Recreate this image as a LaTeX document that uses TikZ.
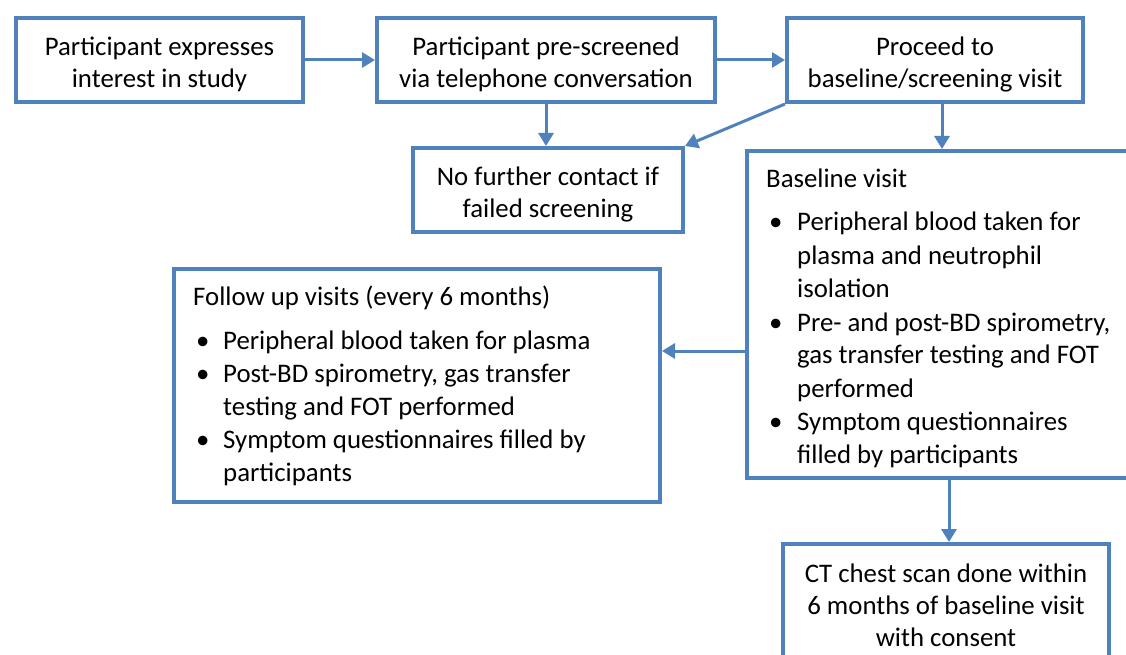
\documentclass[tikz,border=0pt]{standalone}
\usepackage{fontspec}
\setmainfont{Carlito}
\usetikzlibrary{arrows.meta}
\definecolor{flowblue}{RGB}{79,129,189}
% bullet and hanging indent for the visit lists
\newcommand{\itemmark}[1]{\makebox[#1][l]{\hspace{3pt}\textbullet}}
\newcommand{\itemgap}[1]{\makebox[#1]{}}
% extra room above the first line of a centred box text
\newcommand{\topstrut}{\rule{0pt}{27pt}}
\begin{document}
\begin{tikzpicture}[x=1pt,y=-1pt,
  box/.style={draw=flowblue, line width=4pt, fill=white, inner sep=0pt,
    align=center, anchor=north west, font=\fontsize{26.8}{32}\selectfont},
  listtext/.style={anchor=base west, inner sep=0pt,
    font=\fontsize{26.8}{33}\selectfont},
  link/.style={draw=flowblue, line width=3pt,
    -{Triangle[length=13pt,width=15pt]}}]
\useasboundingbox (0,0) rectangle (1126,655);
\clip (0,0) rectangle (1126,655);

% top row
\node[box, minimum width=287pt, minimum height=84pt] (interest) at (14,16)
  {\topstrut Participant expresses\\interest in study};
\node[box, minimum width=338pt, minimum height=84pt] (prescreen) at (375,16)
  {\topstrut Participant pre-screened\\via telephone conversation};
\node[box, minimum width=296pt, minimum height=84pt] (proceed) at (785,16)
  {\topstrut Proceed to\\baseline/screening visit};

% screening failure
\node[box, minimum width=270pt, minimum height=84pt] (nocontact) at (411,146)
  {\topstrut No further contact if\\failed screening};

% baseline visit (runs off the right edge)
\node[box, minimum width=400pt, minimum height=327pt] (baseline) at (745,149) {};
\node[listtext] (basetext) at (766,188) {\begin{tabular}[t]{@{}l@{}}
  Baseline visit\\[10pt]
  \itemmark{31pt}Peripheral blood taken for\\
  \itemgap{31pt}plasma and neutrophil\\
  \itemgap{31pt}isolation\\[1pt]
  \itemmark{31pt}Pre- and post-BD spirometry,\\
  \itemgap{31pt}gas transfer testing and FOT\\
  \itemgap{31pt}performed\\
  \itemmark{31pt}Symptom questionnaires\\
  \itemgap{31pt}filled by participants
  \end{tabular}};

% follow up visits
\node[box, minimum width=486pt, minimum height=233pt] (followup) at (172,267) {};
\node[listtext] (followtext) at (193,305) {\begin{tabular}[t]{@{}l@{}}
  Follow up visits (every 6 months)\\[11pt]
  \itemmark{30pt}Peripheral blood taken for plasma\\
  \itemmark{30pt}Post-BD spirometry, gas transfer\\
  \itemgap{30pt}testing and FOT performed\\
  \itemmark{30pt}Symptom questionnaires filled by\\
  \itemgap{30pt}participants
  \end{tabular}};

% CT scan (runs off the bottom edge)
\node[box, minimum width=326pt, minimum height=122pt] (ctscan) at (781,542)
  {CT chest scan done within\\6 months of baseline visit\\with consent};

% connectors
\coordinate (followlevel) at (0,351);
\draw[link] (interest.east) -- (prescreen.west);
\draw[link] (prescreen.east) -- (proceed.west);
\draw[link] (prescreen.south) -- (prescreen.south |- nocontact.north);
\draw[link] (proceed.south west) -- (nocontact.north east);
\draw[link] ([xshift=7pt]proceed.south) -- ([xshift=7pt]proceed.south |- baseline.north);
\draw[link] (baseline.west |- followlevel) -- (followup.east |- followlevel);
\draw[link] ([xshift=3pt]ctscan.north |- baseline.south) -- ([xshift=3pt]ctscan.north);
\end{tikzpicture}
\end{document}
